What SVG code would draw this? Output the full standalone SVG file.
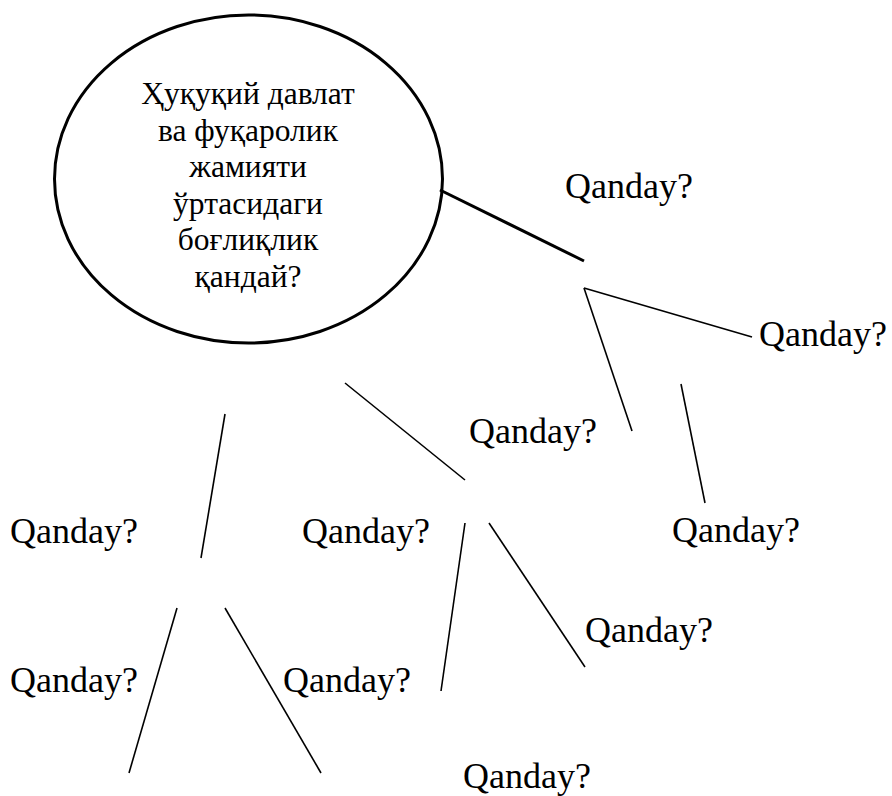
<svg xmlns="http://www.w3.org/2000/svg" width="892" height="796" viewBox="0 0 892 796">
<style>
.q{font-family:'Liberation Serif',serif;font-size:36px;fill:#000}
.c{font-family:'Liberation Serif',serif;font-size:31.5px;fill:#000;text-anchor:middle}
.ln{stroke:#000;stroke-width:1.6;fill:none;stroke-linecap:butt}
</style>
<rect width="892" height="796" fill="#fff"/>
<g id="center">
<ellipse cx="248.5" cy="179" rx="194" ry="164" fill="#fff" stroke="#000" stroke-width="3"/>
<text class="c" x="248" y="104">Ҳуқуқий давлат</text>
<text class="c" x="248" y="140.5">ва фуқаролик</text>
<text class="c" x="248" y="177">жамияти</text>
<text class="c" x="248" y="213.5">ўртасидаги</text>
<text class="c" x="248" y="250">боғлиқлик</text>
<text class="c" x="248" y="287">қандай?</text>
</g>
<g id="connectors">
<line x1="440" y1="190" x2="584" y2="261" stroke="#000" stroke-width="3"/>
<line class="ln" x1="584" y1="288" x2="752" y2="337"/>
<line class="ln" x1="584" y1="288" x2="632" y2="431"/>
<line class="ln" x1="681" y1="384" x2="705" y2="503"/>
<line class="ln" x1="345" y1="383" x2="465" y2="480"/>
<line class="ln" x1="225" y1="414" x2="201" y2="558"/>
<line class="ln" x1="177" y1="608" x2="129" y2="773"/>
<line class="ln" x1="225" y1="608" x2="321" y2="773"/>
<line class="ln" x1="465" y1="523" x2="441" y2="691"/>
<line class="ln" x1="489" y1="523" x2="585" y2="667"/>
</g>
<g id="q1"><text class="q" x="565" y="198">Qanday?</text></g>
<g id="q2"><text class="q" x="759" y="346">Qanday?</text></g>
<g id="q3"><text class="q" x="469" y="443">Qanday?</text></g>
<g id="q4"><text class="q" x="672" y="542">Qanday?</text></g>
<g id="q5"><text class="q" x="10" y="543">Qanday?</text></g>
<g id="q6"><text class="q" x="302" y="543">Qanday?</text></g>
<g id="q7"><text class="q" x="585" y="642">Qanday?</text></g>
<g id="q8"><text class="q" x="10" y="692">Qanday?</text></g>
<g id="q9"><text class="q" x="283" y="692">Qanday?</text></g>
<g id="q10"><text class="q" x="463" y="788">Qanday?</text></g>
</svg>
